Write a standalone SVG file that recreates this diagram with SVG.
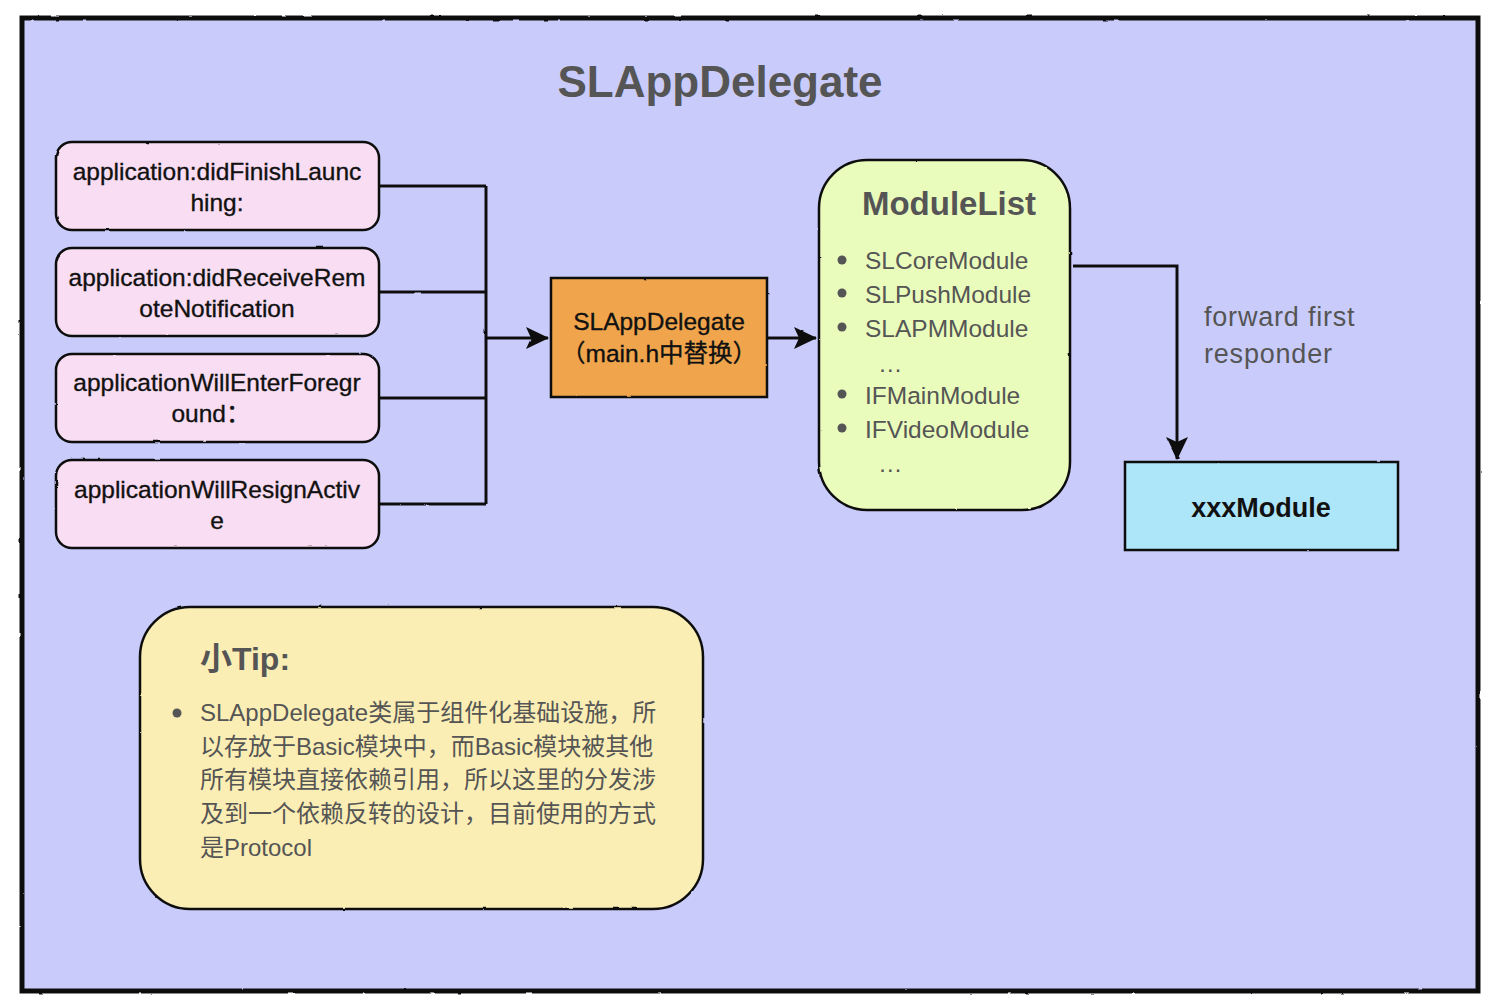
<svg xmlns="http://www.w3.org/2000/svg" width="1500" height="1006" viewBox="0 0 1500 1006">
<defs>
<filter id="rough" x="-5%" y="-5%" width="110%" height="110%">
<feTurbulence type="fractalNoise" baseFrequency="0.08" numOctaves="2" seed="3" result="n"/>
<feDisplacementMap in="SourceGraphic" in2="n" scale="1.8" xChannelSelector="R" yChannelSelector="G"/>
</filter>
<marker id="arrB" viewBox="0 0 24 24" refX="22" refY="12" markerWidth="24" markerHeight="24" markerUnits="userSpaceOnUse" orient="auto">
<path d="M0,1 L23,12 L0,23 L5,12 Z" fill="#111"/>
</marker>
<style>
.frame{fill:#C9CCFA;stroke:#111;stroke-width:5}
.pink{fill:#F9DDF2;stroke:#111;stroke-width:2.5}
.orange{fill:#F0A54D;stroke:#111;stroke-width:2.5}
.green{fill:#EAFCBC;stroke:#111;stroke-width:2.5}
.blue{fill:#ADE5F9;stroke:#111;stroke-width:2.5}
.yellow{fill:#FBEEB4;stroke:#111;stroke-width:2.5}
.conn{fill:none;stroke:#111;stroke-width:3}
.t{font-family:"Liberation Sans","Noto Sans CJK SC",sans-serif;}
.node{font-size:24.5px;fill:#111;text-anchor:middle;stroke:#111;stroke-width:0.35}
.item{font-size:24.5px;fill:#555}
.tip{font-size:24px;fill:#555;font-family:"Liberation Sans","Noto Sans CJK SC",sans-serif}
</style>
</defs>
<rect class="frame" x="22" y="18" width="1456" height="973" filter="url(#rough)"/>
<text class="t" x="720" y="97" font-size="44" font-weight="bold" fill="#555" text-anchor="middle">SLAppDelegate</text>

<g id="connectors" filter="url(#rough)">
<path class="conn" d="M380,186 H486 M380,292 H486 M380,398 H486 M380,504 H486 M486,186 V504"/>
<path class="conn" d="M486,338 H548" marker-end="url(#arrB)"/>
<path class="conn" d="M767,338 H816" marker-end="url(#arrB)"/>
<path class="conn" d="M1073,266 H1177 V459" marker-end="url(#arrB)"/>
</g>

<g id="n1"><rect class="pink" x="56" y="142" width="323" height="88" rx="16" filter="url(#rough)"/>
<text class="t node" x="217" y="180">application:didFinishLaunc</text><text class="t node" x="217" y="211">hing:</text></g>
<g id="n2"><rect class="pink" x="56" y="248" width="323" height="88" rx="16" filter="url(#rough)"/>
<text class="t node" x="217" y="286">application:didReceiveRem</text><text class="t node" x="217" y="317">oteNotification</text></g>
<g id="n3"><rect class="pink" x="56" y="354" width="323" height="88" rx="16" filter="url(#rough)"/>
<text class="t node" x="217" y="391">applicationWillEnterForegr</text><text class="t node" x="211" y="422">ound：</text></g>
<g id="n4"><rect class="pink" x="56" y="460" width="323" height="88" rx="16" filter="url(#rough)"/>
<text class="t node" x="217" y="498">applicationWillResignActiv</text><text class="t node" x="217" y="529">e</text></g>

<g id="delegate"><rect class="orange" x="551" y="278" width="216" height="119" filter="url(#rough)"/>
<text class="t node" x="659" y="330" font-size="24">SLAppDelegate</text><text class="t node" x="659" y="362" font-size="24">（main.h中替换）</text></g>

<g id="modulelist"><rect class="green" x="819" y="160" width="251" height="350" rx="48" filter="url(#rough)"/>
<text class="t" x="949" y="215" font-size="33" font-weight="bold" fill="#555" text-anchor="middle">ModuleList</text>
<g fill="#555"><circle cx="842" cy="260" r="4.5"/><circle cx="842" cy="293" r="4.5"/><circle cx="842" cy="327" r="4.5"/><circle cx="842" cy="394" r="4.5"/><circle cx="842" cy="428" r="4.5"/></g>
<text class="t item" x="865" y="269">SLCoreModule</text>
<text class="t item" x="865" y="303">SLPushModule</text>
<text class="t item" x="865" y="337">SLAPMModule</text>
<text class="t item" x="878" y="372">…</text>
<text class="t item" x="865" y="404">IFMainModule</text>
<text class="t item" x="865" y="438">IFVideoModule</text>
<text class="t item" x="878" y="472">…</text></g>

<text class="t" x="1204" y="326" font-size="27" letter-spacing="0.8" fill="#555">forward first</text>
<text class="t" x="1204" y="363" font-size="27" letter-spacing="0.8" fill="#555">responder</text>

<g id="xxxmodule"><rect class="blue" x="1125" y="462" width="273" height="88" filter="url(#rough)"/>
<text class="t" x="1261" y="517" font-size="27" font-weight="bold" fill="#111" text-anchor="middle">xxxModule</text></g>

<g id="tip"><rect class="yellow" x="140" y="607" width="563" height="302" rx="50" filter="url(#rough)"/>
<text class="t" x="200" y="670" font-size="32" font-weight="bold" fill="#555">小Tip:</text>
<circle cx="177" cy="713" r="4.5" fill="#555"/>
<text class="tip" x="200" y="721">SLAppDelegate类属于组件化基础设施，所</text>
<text class="tip" x="200" y="755">以存放于Basic模块中，而Basic模块被其他</text>
<text class="tip" x="200" y="788">所有模块直接依赖引用，所以这里的分发涉</text>
<text class="tip" x="200" y="822">及到一个依赖反转的设计，目前使用的方式</text>
<text class="tip" x="200" y="856">是Protocol</text></g>
</svg>
